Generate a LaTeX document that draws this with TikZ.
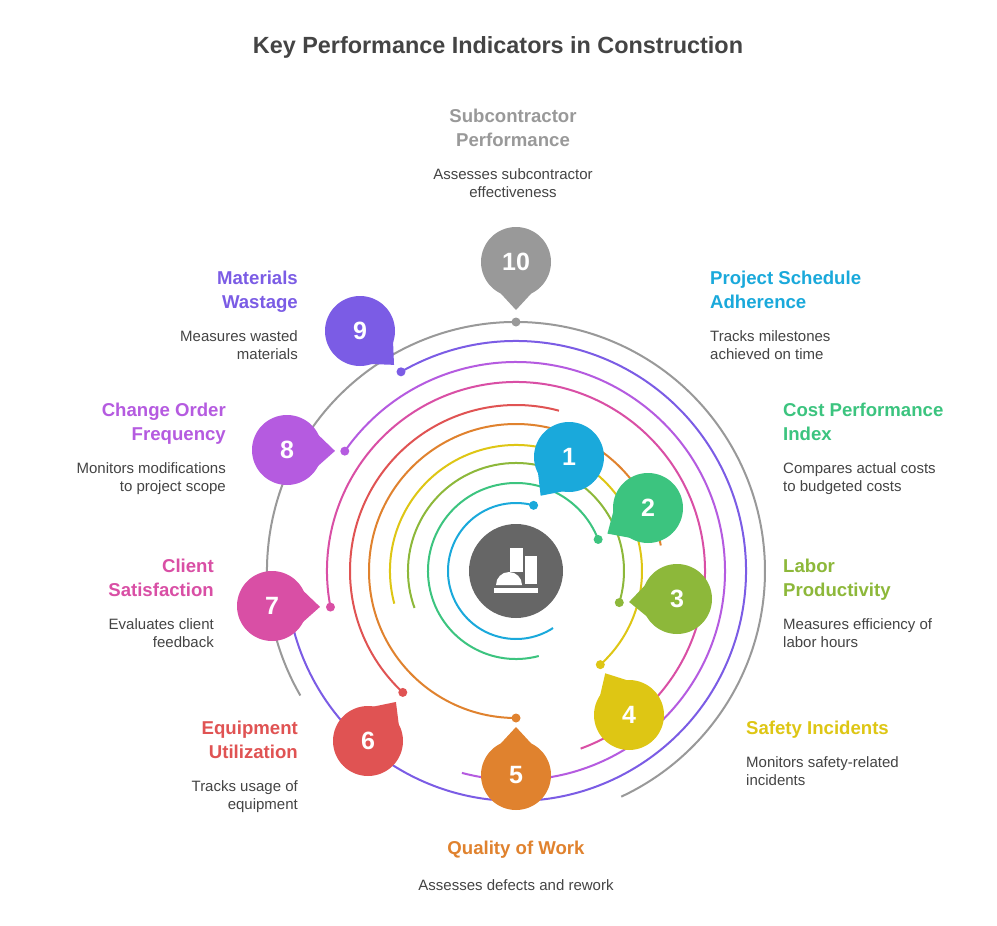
\documentclass[tikz,border=0pt]{standalone}
\usepackage{fontspec}
\setmainfont{Liberation Sans}
\usetikzlibrary{calc}
\definecolor{c1}{HTML}{1AA9DB}\definecolor{c2}{HTML}{3CC47F}\definecolor{c3}{HTML}{8DB83A}
\definecolor{c4}{HTML}{DEC614}\definecolor{c5}{HTML}{E0822E}\definecolor{c6}{HTML}{E05353}
\definecolor{c7}{HTML}{D94FA5}\definecolor{c8}{HTML}{B55BE0}\definecolor{c9}{HTML}{7B5CE5}
\definecolor{c10}{HTML}{999999}\definecolor{tx}{HTML}{444444}\definecolor{hub}{HTML}{666666}
\newcommand{\myring}[4]{\draw[#4,line width=2pt] ($(ctr)+(#2:#1)$) arc[start angle=#2,end angle=#3,radius=#1];}
\newcommand{\mykpi}[6]{%
 \node[dot,fill=#4] (d#5) at ($(ctr)+(#6)$) {};
 \coordinate (k#5) at (#2,#3);
 \path let \p1=($(d#5)-(k#5)$), \n1={-atan2(\y1,\x1)} in
   [fill=#4] ($(k#5)+(\n1:48)$) -- ($(k#5)+(\n1+38:33)$) -- ($(k#5)+(\n1-38:33)$) -- cycle;
 \node[bub,fill=#4] (b#5) at (k#5) {#5};}
\tikzset{dot/.style={circle,minimum size=9pt,inner sep=0pt},
 bub/.style={circle,minimum size=70pt,inner sep=0pt,text=white,font=\fontsize{25}{25}\bfseries},
 hd/.style={inner sep=0pt,font=\fontsize{18.6}{24}\bfseries},
 ds/.style={inner sep=0pt,text=tx,font=\fontsize{15}{18}\selectfont}}
\begin{document}
\begin{tikzpicture}[x=1pt,y=-1pt]
\useasboundingbox[fill=white] (0,0) rectangle (997,926);
\coordinate (ctr) at (516,571);
\node[text=tx,font=\fontsize{23.4}{26}\bfseries] (title) at (498,47) {Key Performance Indicators in Construction};
\myring{68}{57}{285}{c1}
\myring{88}{75}{339}{c2}
\myring{108}{-200}{17}{c3}
\myring{126}{-195}{48}{c4}
\myring{147}{90}{350}{c5}
\myring{166}{133}{285}{c6}
\myring{189}{169}{430}{c7}
\myring{209}{215}{465}{c8}
\myring{230}{240}{525}{c9}
\myring{249}{150}{425}{c10}
\node[circle,fill=hub,minimum size=94pt] (hub) at (ctr) {};
\fill[white] (510,548) rectangle (523,572);
\fill[white] (525,556) rectangle (537,584);
\fill[white] (494,588) rectangle (538,593);
\fill[white] (496,585) arc[start angle=180,end angle=360,radius=13] -- cycle;
\mykpi{name}{569}{457}{c1}{1}{-75:68}
\mykpi{name}{648}{508}{c2}{2}{-21:88}
\mykpi{name}{677}{599}{c3}{3}{17:108}
\mykpi{name}{629}{715}{c4}{4}{48:126}
\mykpi{name}{516}{775}{c5}{5}{90:147}
\mykpi{name}{368}{741}{c6}{6}{133:166}
\mykpi{name}{272}{606}{c7}{7}{169:189}
\mykpi{name}{287}{450}{c8}{8}{215:209}
\mykpi{name}{360}{331}{c9}{9}{240:230}
\mykpi{name}{516}{262}{c10}{10}{270:249}
% texts
\node[hd,text=c10,align=center,anchor=north] (h10) at (513,109) {Subcontractor\\Performance};
\node[ds,align=center,anchor=north] (t10) at (513,168) {Assesses subcontractor\\effectiveness};
\node[hd,text=c1,align=left,anchor=north west] (h1) at (710,271) {Project Schedule\\Adherence};
\node[ds,align=left,anchor=north west] (t1) at (710,330) {Tracks milestones\\achieved on time};
\node[hd,text=c2,align=left,anchor=north west] (h2) at (783,403) {Cost Performance\\Index};
\node[ds,align=left,anchor=north west] (t2) at (783,462) {Compares actual costs\\to budgeted costs};
\node[hd,text=c3,align=left,anchor=north west] (h3) at (783,559) {Labor\\Productivity};
\node[ds,align=left,anchor=north west] (t3) at (783,618) {Measures efficiency of\\labor hours};
\node[hd,text=c4,align=left,anchor=north west] (h4) at (746,721) {Safety Incidents};
\node[ds,align=left,anchor=north west] (t4) at (746,756) {Monitors safety-related\\incidents};
\node[hd,text=c5,align=center,anchor=north] (h5) at (516,841) {Quality of Work};
\node[ds,align=center,anchor=north] (t5) at (516,879) {Assesses defects and rework};
\node[hd,text=c6,align=right,anchor=north east] (h6) at (298,721) {Equipment\\Utilization};
\node[ds,align=right,anchor=north east] (t6) at (298,780) {Tracks usage of\\equipment};
\node[hd,text=c7,align=right,anchor=north east] (h7) at (214,559) {Client\\Satisfaction};
\node[ds,align=right,anchor=north east] (t7) at (214,618) {Evaluates client\\feedback};
\node[hd,text=c8,align=right,anchor=north east] (h8) at (226,403) {Change Order\\Frequency};
\node[ds,align=right,anchor=north east] (t8) at (226,462) {Monitors modifications\\to project scope};
\node[hd,text=c9,align=right,anchor=north east] (h9) at (298,271) {Materials\\Wastage};
\node[ds,align=right,anchor=north east] (t9) at (298,330) {Measures wasted\\materials};
\end{tikzpicture}
\end{document}
